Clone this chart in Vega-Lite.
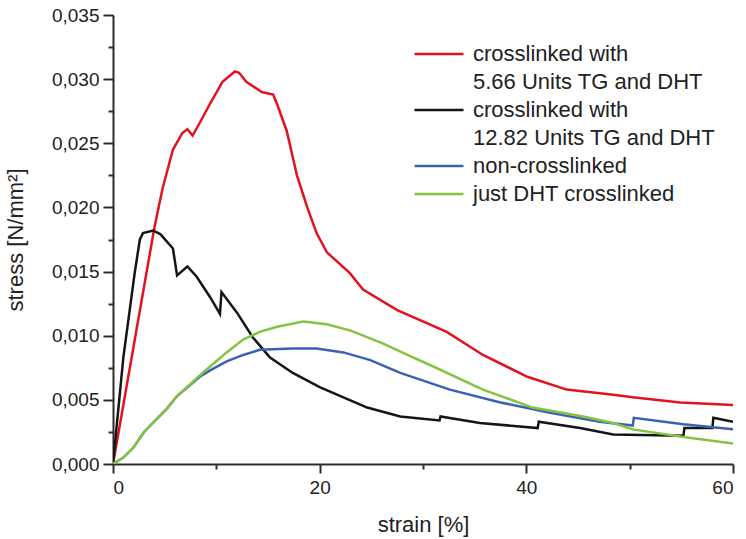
{
  "$schema": "https://vega.github.io/schema/vega-lite/v6.json",
  "width": 620,
  "height": 449,
  "autosize": {"type": "none"},
  "padding": {"left": 113, "top": 15, "right": 13, "bottom": 75},
  "background": "white",
  "config": {
    "view": {"stroke": null},
    "font": "Liberation Sans",
    "axis": {
      "domainColor": "#2b2b2b",
      "domainWidth": 2,
      "tickColor": "#2b2b2b",
      "tickWidth": 2,
      "grid": false,
      "labelFont": "Liberation Sans",
      "labelFontSize": 19,
      "labelColor": "#222222",
      "titleFont": "Liberation Sans",
      "titleFontSize": 22,
      "titleFontWeight": "normal",
      "titleColor": "#222222"
    },
    "legend": {
      "labelFont": "Liberation Sans",
      "labelFontSize": 22,
      "labelColor": "#222222"
    }
  },
  "data": {
    "values": [
      {"sample": "crosslinked with 5.66 Units TG and DHT", "strain": 0, "stress": 0},
      {"sample": "crosslinked with 5.66 Units TG and DHT", "strain": 2.0, "stress": 0.0092},
      {"sample": "crosslinked with 5.66 Units TG and DHT", "strain": 4.0, "stress": 0.0184},
      {"sample": "crosslinked with 5.66 Units TG and DHT", "strain": 4.8, "stress": 0.0215},
      {"sample": "crosslinked with 5.66 Units TG and DHT", "strain": 5.8, "stress": 0.0245},
      {"sample": "crosslinked with 5.66 Units TG and DHT", "strain": 6.7, "stress": 0.0258},
      {"sample": "crosslinked with 5.66 Units TG and DHT", "strain": 7.2, "stress": 0.0261},
      {"sample": "crosslinked with 5.66 Units TG and DHT", "strain": 7.7, "stress": 0.0256},
      {"sample": "crosslinked with 5.66 Units TG and DHT", "strain": 8.4, "stress": 0.0266},
      {"sample": "crosslinked with 5.66 Units TG and DHT", "strain": 9.4, "stress": 0.0281},
      {"sample": "crosslinked with 5.66 Units TG and DHT", "strain": 10.6, "stress": 0.0298},
      {"sample": "crosslinked with 5.66 Units TG and DHT", "strain": 11.8, "stress": 0.0306},
      {"sample": "crosslinked with 5.66 Units TG and DHT", "strain": 12.2, "stress": 0.0305},
      {"sample": "crosslinked with 5.66 Units TG and DHT", "strain": 12.9, "stress": 0.0298},
      {"sample": "crosslinked with 5.66 Units TG and DHT", "strain": 14.4, "stress": 0.0290},
      {"sample": "crosslinked with 5.66 Units TG and DHT", "strain": 15.5, "stress": 0.0288},
      {"sample": "crosslinked with 5.66 Units TG and DHT", "strain": 15.9, "stress": 0.0280},
      {"sample": "crosslinked with 5.66 Units TG and DHT", "strain": 16.8, "stress": 0.0260},
      {"sample": "crosslinked with 5.66 Units TG and DHT", "strain": 17.8, "stress": 0.0225},
      {"sample": "crosslinked with 5.66 Units TG and DHT", "strain": 18.8, "stress": 0.0200},
      {"sample": "crosslinked with 5.66 Units TG and DHT", "strain": 19.7, "stress": 0.0180},
      {"sample": "crosslinked with 5.66 Units TG and DHT", "strain": 20.7, "stress": 0.0165},
      {"sample": "crosslinked with 5.66 Units TG and DHT", "strain": 22.9, "stress": 0.0149},
      {"sample": "crosslinked with 5.66 Units TG and DHT", "strain": 24.2, "stress": 0.0136},
      {"sample": "crosslinked with 5.66 Units TG and DHT", "strain": 27.5, "stress": 0.0120},
      {"sample": "crosslinked with 5.66 Units TG and DHT", "strain": 32.3, "stress": 0.0103},
      {"sample": "crosslinked with 5.66 Units TG and DHT", "strain": 35.8, "stress": 0.0085},
      {"sample": "crosslinked with 5.66 Units TG and DHT", "strain": 40.1, "stress": 0.0068},
      {"sample": "crosslinked with 5.66 Units TG and DHT", "strain": 43.9, "stress": 0.0058},
      {"sample": "crosslinked with 5.66 Units TG and DHT", "strain": 48.4, "stress": 0.0054},
      {"sample": "crosslinked with 5.66 Units TG and DHT", "strain": 50.3, "stress": 0.0052},
      {"sample": "crosslinked with 5.66 Units TG and DHT", "strain": 54.9, "stress": 0.0048},
      {"sample": "crosslinked with 5.66 Units TG and DHT", "strain": 60, "stress": 0.0046},

      {"sample": "crosslinked with 12.82 Units TG and DHT", "strain": 0, "stress": 0},
      {"sample": "crosslinked with 12.82 Units TG and DHT", "strain": 1.0, "stress": 0.0083},
      {"sample": "crosslinked with 12.82 Units TG and DHT", "strain": 2.1, "stress": 0.0149},
      {"sample": "crosslinked with 12.82 Units TG and DHT", "strain": 2.6, "stress": 0.0175},
      {"sample": "crosslinked with 12.82 Units TG and DHT", "strain": 2.9, "stress": 0.0180},
      {"sample": "crosslinked with 12.82 Units TG and DHT", "strain": 3.9, "stress": 0.0182},
      {"sample": "crosslinked with 12.82 Units TG and DHT", "strain": 4.6, "stress": 0.0179},
      {"sample": "crosslinked with 12.82 Units TG and DHT", "strain": 5.8, "stress": 0.0168},
      {"sample": "crosslinked with 12.82 Units TG and DHT", "strain": 6.2, "stress": 0.0147},
      {"sample": "crosslinked with 12.82 Units TG and DHT", "strain": 7.2, "stress": 0.0154},
      {"sample": "crosslinked with 12.82 Units TG and DHT", "strain": 8.1, "stress": 0.0146},
      {"sample": "crosslinked with 12.82 Units TG and DHT", "strain": 9.4, "stress": 0.0130},
      {"sample": "crosslinked with 12.82 Units TG and DHT", "strain": 10.35, "stress": 0.0117},
      {"sample": "crosslinked with 12.82 Units TG and DHT", "strain": 10.5, "stress": 0.0134},
      {"sample": "crosslinked with 12.82 Units TG and DHT", "strain": 12.0, "stress": 0.0118},
      {"sample": "crosslinked with 12.82 Units TG and DHT", "strain": 13.5, "stress": 0.0099},
      {"sample": "crosslinked with 12.82 Units TG and DHT", "strain": 15.2, "stress": 0.0083},
      {"sample": "crosslinked with 12.82 Units TG and DHT", "strain": 17.4, "stress": 0.0071},
      {"sample": "crosslinked with 12.82 Units TG and DHT", "strain": 20.0, "stress": 0.0060},
      {"sample": "crosslinked with 12.82 Units TG and DHT", "strain": 22.3, "stress": 0.0052},
      {"sample": "crosslinked with 12.82 Units TG and DHT", "strain": 24.6, "stress": 0.0044},
      {"sample": "crosslinked with 12.82 Units TG and DHT", "strain": 27.8, "stress": 0.0037},
      {"sample": "crosslinked with 12.82 Units TG and DHT", "strain": 31.6, "stress": 0.0034},
      {"sample": "crosslinked with 12.82 Units TG and DHT", "strain": 31.7, "stress": 0.0037},
      {"sample": "crosslinked with 12.82 Units TG and DHT", "strain": 35.5, "stress": 0.0032},
      {"sample": "crosslinked with 12.82 Units TG and DHT", "strain": 41.1, "stress": 0.0028},
      {"sample": "crosslinked with 12.82 Units TG and DHT", "strain": 41.2, "stress": 0.0033},
      {"sample": "crosslinked with 12.82 Units TG and DHT", "strain": 45.2, "stress": 0.0028},
      {"sample": "crosslinked with 12.82 Units TG and DHT", "strain": 48.4, "stress": 0.0023},
      {"sample": "crosslinked with 12.82 Units TG and DHT", "strain": 55.2, "stress": 0.0022},
      {"sample": "crosslinked with 12.82 Units TG and DHT", "strain": 55.3, "stress": 0.0028},
      {"sample": "crosslinked with 12.82 Units TG and DHT", "strain": 58.0, "stress": 0.0028},
      {"sample": "crosslinked with 12.82 Units TG and DHT", "strain": 58.1, "stress": 0.0036},
      {"sample": "crosslinked with 12.82 Units TG and DHT", "strain": 60, "stress": 0.0033},

      {"sample": "non-crosslinked", "strain": 0, "stress": 0},
      {"sample": "non-crosslinked", "strain": 1.0, "stress": 0.0005},
      {"sample": "non-crosslinked", "strain": 2.0, "stress": 0.0013},
      {"sample": "non-crosslinked", "strain": 3.0, "stress": 0.0025},
      {"sample": "non-crosslinked", "strain": 5.2, "stress": 0.0043},
      {"sample": "non-crosslinked", "strain": 6.2, "stress": 0.0053},
      {"sample": "non-crosslinked", "strain": 8.4, "stress": 0.0068},
      {"sample": "non-crosslinked", "strain": 9.4, "stress": 0.0073},
      {"sample": "non-crosslinked", "strain": 11.0, "stress": 0.0080},
      {"sample": "non-crosslinked", "strain": 12.6, "stress": 0.0085},
      {"sample": "non-crosslinked", "strain": 14.2, "stress": 0.0089},
      {"sample": "non-crosslinked", "strain": 17.4, "stress": 0.0090},
      {"sample": "non-crosslinked", "strain": 19.7, "stress": 0.0090},
      {"sample": "non-crosslinked", "strain": 22.3, "stress": 0.0087},
      {"sample": "non-crosslinked", "strain": 24.9, "stress": 0.0081},
      {"sample": "non-crosslinked", "strain": 27.8, "stress": 0.0071},
      {"sample": "non-crosslinked", "strain": 32.6, "stress": 0.0058},
      {"sample": "non-crosslinked", "strain": 37.5, "stress": 0.0048},
      {"sample": "non-crosslinked", "strain": 42.3, "stress": 0.0040},
      {"sample": "non-crosslinked", "strain": 47.1, "stress": 0.0033},
      {"sample": "non-crosslinked", "strain": 50.3, "stress": 0.0030},
      {"sample": "non-crosslinked", "strain": 50.4, "stress": 0.0036},
      {"sample": "non-crosslinked", "strain": 55.2, "stress": 0.0031},
      {"sample": "non-crosslinked", "strain": 60, "stress": 0.0027},

      {"sample": "just DHT crosslinked", "strain": 0, "stress": 0},
      {"sample": "just DHT crosslinked", "strain": 1.0, "stress": 0.0005},
      {"sample": "just DHT crosslinked", "strain": 2.0, "stress": 0.0013},
      {"sample": "just DHT crosslinked", "strain": 3.0, "stress": 0.0025},
      {"sample": "just DHT crosslinked", "strain": 5.2, "stress": 0.0043},
      {"sample": "just DHT crosslinked", "strain": 6.2, "stress": 0.0053},
      {"sample": "just DHT crosslinked", "strain": 8.4, "stress": 0.0069},
      {"sample": "just DHT crosslinked", "strain": 9.4, "stress": 0.0076},
      {"sample": "just DHT crosslinked", "strain": 11.0, "stress": 0.0087},
      {"sample": "just DHT crosslinked", "strain": 12.6, "stress": 0.0097},
      {"sample": "just DHT crosslinked", "strain": 14.2, "stress": 0.0103},
      {"sample": "just DHT crosslinked", "strain": 15.9, "stress": 0.0107},
      {"sample": "just DHT crosslinked", "strain": 18.4, "stress": 0.0111},
      {"sample": "just DHT crosslinked", "strain": 20.7, "stress": 0.0109},
      {"sample": "just DHT crosslinked", "strain": 23.0, "stress": 0.0104},
      {"sample": "just DHT crosslinked", "strain": 26.1, "stress": 0.0094},
      {"sample": "just DHT crosslinked", "strain": 28.5, "stress": 0.0085},
      {"sample": "just DHT crosslinked", "strain": 31.0, "stress": 0.0076},
      {"sample": "just DHT crosslinked", "strain": 35.8, "stress": 0.0058},
      {"sample": "just DHT crosslinked", "strain": 40.6, "stress": 0.0044},
      {"sample": "just DHT crosslinked", "strain": 45.5, "stress": 0.0037},
      {"sample": "just DHT crosslinked", "strain": 48.4, "stress": 0.0032},
      {"sample": "just DHT crosslinked", "strain": 50.3, "stress": 0.0027},
      {"sample": "just DHT crosslinked", "strain": 55.2, "stress": 0.0021},
      {"sample": "just DHT crosslinked", "strain": 60, "stress": 0.0016}
    ]
  },
  "mark": {"type": "line", "strokeWidth": 2.5, "interpolate": "linear", "clip": true},
  "encoding": {
    "x": {
      "field": "strain",
      "type": "quantitative",
      "scale": {"domain": [0, 60], "nice": false, "zero": false},
      "axis": {
        "title": "strain [%]",
        "values": [0, 10, 20, 30, 40, 50, 60],
        "labelExpr": "datum.value % 20 == 0 ? datum.label : ''",
        "tickSize": {"condition": {"test": "datum.value % 20 == 0", "value": 9}, "value": 5},
        "labelPadding": 5,
        "titlePadding": 17
      }
    },
    "y": {
      "field": "stress",
      "type": "quantitative",
      "scale": {"domain": [0, 0.035], "nice": false},
      "axis": {
        "title": "stress [N/mm²]",
        "values": [0, 0.0025, 0.005, 0.0075, 0.01, 0.0125, 0.015, 0.0175, 0.02, 0.0225, 0.025, 0.0275, 0.03, 0.0325, 0.035],
        "labelExpr": "round(datum.value * 10000) % 50 == 0 ? replace(format(datum.value, '.3f'), '.', ',') : ''",
        "tickSize": {"condition": {"test": "round(datum.value * 10000) % 50 == 0", "value": 10}, "value": 5},
        "labelPadding": 4,
        "titlePadding": 24
      }
    },
    "color": {
      "field": "sample",
      "type": "nominal",
      "scale": {
        "domain": [
          "crosslinked with 5.66 Units TG and DHT",
          "5.66 Units TG and DHT",
          "crosslinked with 12.82 Units TG and DHT",
          "12.82 Units TG and DHT",
          "non-crosslinked",
          "just DHT crosslinked"
        ],
        "range": ["#e3121f", "rgba(0,0,0,0)", "#151515", "rgba(0,0,0,0)", "#3c60b4", "#85c440"]
      },
      "legend": {
        "title": null,
        "orient": "none",
        "legendX": 300,
        "legendY": 25,
        "symbolType": "stroke",
        "symbolSize": 2400,
        "symbolStrokeWidth": 2.5,
        "clipHeight": 28,
        "rowPadding": 0,
        "labelOffset": 8,
        "padding": 0,
        "labelLimit": 400,
        "labelExpr": "indexof(datum.label, 'crosslinked with') == 0 ? 'crosslinked with' : datum.label"
      }
    }
  }
}
